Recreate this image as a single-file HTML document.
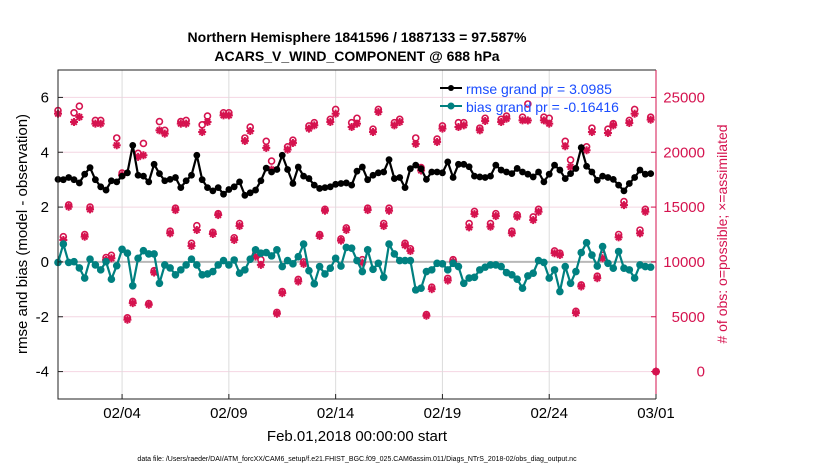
<!DOCTYPE html>
<html><head><meta charset="utf-8"><style>
body{margin:0;background:#fff;}
svg{display:block;font-family:"Liberation Sans",Arial,sans-serif;}
</style></head><body>
<svg id="chart" width="830" height="470" viewBox="0 0 830 470">
<rect width="830" height="470" fill="#fff"/>
<text x="357" y="42" text-anchor="middle" font-size="14" font-weight="bold">Northern Hemisphere 1841596 / 1887133 = 97.587%</text>
<text x="357" y="61" text-anchor="middle" font-size="14" font-weight="bold">ACARS_V_WIND_COMPONENT @ 688 hPa</text>
<g id="grid"></g>
<g id="marks"></g>
<g id="axes"></g>
<text x="357" y="441" text-anchor="middle" font-size="15">Feb.01,2018 00:00:00 start</text>
<text transform="translate(27,234) rotate(-90)" text-anchor="middle" font-size="15">rmse and bias (model - observation)</text>
<text transform="translate(727,234) rotate(-90)" text-anchor="middle" font-size="14" fill="#d5134f"># of obs: o=possible; ×=assimilated</text>
<text x="357" y="461" text-anchor="middle" font-size="7">data file: /Users/raeder/DAI/ATM_forcXX/CAM6_setup/f.e21.FHIST_BGC.f09_025.CAM6assim.011/Diags_NTrS_2018-02/obs_diag_output.nc</text>
<g id="legend">
<line x1="440" y1="88" x2="462" y2="88" stroke="#000" stroke-width="2"/>
<circle cx="451" cy="88" r="3" fill="#000"/>
<text x="466" y="94" font-size="14" fill="#1a4cff">rmse grand pr = 3.0985</text>
<line x1="440" y1="106" x2="462" y2="106" stroke="#008080" stroke-width="2"/>
<circle cx="451" cy="106" r="3.5" fill="#008080"/>
<text x="466" y="112" font-size="14" fill="#1a4cff">bias grand pr = -0.16416</text>
</g>
</svg>
<script>
const xTickLabels = ["02/04","02/09","02/14","02/19","02/24","03/01"];
const xTickDays = [3,8,13,18,23,28];
const leftTicks = [-4,-2,0,2,4,6];
const rightTicks = [0,5000,10000,15000,20000,25000];
const rmse = [3.01,3.0,3.08,3.0,2.88,3.2,3.44,3.0,2.74,2.62,2.96,2.92,3.13,3.25,4.25,3.16,3.13,2.92,3.56,3.22,2.96,3.01,3.08,2.71,2.96,3.16,3.89,3.0,2.71,2.59,2.71,2.47,2.64,2.74,2.92,2.43,2.52,2.62,2.96,3.42,
3.28,3.37,3.89,3.37,2.86,3.46,3.13,3.04,2.8,2.68,2.71,2.74,2.83,2.86,2.88,2.8,3.31,3.46,3.0,3.16,3.25,3.28,3.73,3.04,3.08,2.71,3.4,3.53,3.4,3.01,3.28,3.28,3.25,3.65,3.08,3.56,3.56,
3.47,3.13,3.10,3.08,3.13,3.53,3.35,3.28,3.22,3.41,3.28,3.2,3.1,3.28,2.92,3.2,3.53,3.35,3.04,3.22,3.41,4.17,3.49,3.28,2.98,3.13,3.08,3.01,2.8,2.59,2.86,3.08,3.35,3.2,3.22];
const bias = [-0.02,0.65,-0.02,0.01,-0.22,-0.59,0.1,-0.11,-0.29,0.01,-0.63,-0.14,0.46,0.32,-0.87,0.13,0.41,0.29,0.29,-0.78,-0.11,-0.22,-0.47,-0.29,-0.11,0.1,-0.11,-0.47,-0.44,-0.35,-0.11,0.05,-0.11,0.07,-0.41,-0.29,0.1,0.44,0.32,0.34,
0.22,0.44,-0.17,0.05,-0.07,0.19,0.65,-0.32,-0.8,-0.17,-0.44,-0.23,0.13,-0.15,0.53,0.5,0.05,-0.35,0.44,-0.27,-0.05,-0.56,0.65,0.29,0.05,0.05,0.05,-1.02,-0.96,-0.35,-0.29,-0.05,-0.07,-0.29,-0.05,-0.17,-0.78,
-0.59,-0.56,-0.29,-0.19,-0.11,-0.11,-0.17,-0.39,-0.47,-0.63,-0.96,-0.51,-0.41,0.05,-0.02,-0.59,-0.29,-1.08,-0.17,-0.78,-0.35,0.34,0.7,0.25,-0.15,0.56,-0.05,-0.23,0.38,-0.23,-0.29,-0.59,-0.11,-0.17,-0.19];
const assimilated = [23515,12000,15030,22760,23212,12300,14790,22606,22606,10182,10333,20636,17909,4727,6242,19576,19727,6091,9030,22000,21697,12606,14727,22606,22606,11454,12909,21848,22760,12545,14273,23364,23364,12000,13273,21030,21939,10485,9727,20394,
18424,5272,7151,20242,20848,8212,9818,22151,22454,12363,14666,22757,23515,11939,12909,22303,22606,9939,14727,21848,23666,13272,14666,22454,22757,11515,11000,20757,18333,5091,7515,20939,22151,8303,10030,
22303,22454,13151,14363,22000,22848,13212,14181,22757,23060,12606,14121,22909,22900,13818,14575,22909,22606,10787,10636,20545,18666,5333,7757,20181,21848,8515,10333,21757,22454,12242,15181,22666,23515,12606,14575,22970,0];
const possible = [23800,12300,15200,23600,24200,12500,15000,22900,22900,10400,10600,21300,18100,4900,6400,19900,20800,6200,9200,22800,22000,12800,14900,22800,22900,11700,13300,22500,23300,12700,14400,23600,23600,12200,13500,21300,22300,10700,10200,21000,
19200,5400,7300,20500,21100,8400,10000,22400,22700,12500,14800,23000,23900,12100,13100,22700,23100,10200,14900,22100,23900,13500,14900,22700,23000,11700,11200,21300,18600,5200,7700,21200,22400,8500,10200,
22700,22700,13500,14600,22200,23100,13500,14400,23000,23300,12800,14300,23200,24400,14100,14800,23200,23100,11000,10800,21000,19300,5500,7900,20500,22200,8700,10600,22100,22600,12500,15500,22900,23900,12900,14800,23200,0];

const NS='http://www.w3.org/2000/svg';
const X0=58, X1=656, Y0=70, Y1=399;
const xs = d => X0 + (d/28)*(X1-X0);
const xi = i => xs(i*0.25);
const yl = v => Y1 - (v+5)/12*(Y1-Y0);
const yr = v => Y1 - (v+2500)/30000*(Y1-Y0);
function mk(tag, attrs, parent){const e=document.createElementNS(NS,tag);for(const k in attrs)e.setAttribute(k,attrs[k]);parent.appendChild(e);return e;}
const grid=document.getElementById('grid'), marks=document.getElementById('marks'), axes=document.getElementById('axes');

rightTicks.forEach(t=>{
  const l=mk('line',{x1:X0,x2:X1,y1:yr(t),y2:yr(t),stroke:'#f4d6e2','stroke-width':1},grid);
  
  
});
xTickDays.forEach(d=>{
  const l=mk('line',{x1:xs(d),x2:xs(d),y1:Y0,y2:Y1,stroke:'#dcdcdc','stroke-width':1},grid);
  
  
});
const zl=mk('line',{x1:X0,x2:X1,y1:yl(0),y2:yl(0),stroke:'#b8b8b8','stroke-width':2},grid);



function star(cx,cy,p){
  const g=mk('g',{stroke:'#d5134f','stroke-width':2},p);
  
  
  const r=4;
  mk('line',{x1:cx-r,y1:cy,x2:cx+r,y2:cy},g);
  mk('line',{x1:cx,y1:cy-r,x2:cx,y2:cy+r},g);
  mk('line',{x1:cx-r*0.7,y1:cy-r*0.7,x2:cx+r*0.7,y2:cy+r*0.7},g);
  mk('line',{x1:cx-r*0.7,y1:cy+r*0.7,x2:cx+r*0.7,y2:cy-r*0.7},g);
  const c=mk('circle',{cx:cx,cy:cy,r:2,fill:'#d5134f',stroke:'none'},g);
}
possible.forEach((v,i)=>{
  const c=mk('circle',{cx:xi(i),cy:yr(v),r:3,fill:'none',stroke:'#d5134f','stroke-width':1.6},marks);
  
  
});
assimilated.forEach((v,i)=>star(xi(i),yr(v),marks));

function series(arr,color,r,name){
  const p=mk('polyline',{points:arr.map((v,i)=>xi(i)+','+yl(v)).join(' '),fill:'none',stroke:color,'stroke-width':2.2},marks);
  
  
  arr.forEach((v,i)=>{
    const c=mk('circle',{cx:xi(i),cy:yl(v),r:r,fill:color},marks);
    
    
  });
}
series(bias,'#008080',3.8,'bias');
series(rmse,'#000000',3.4,'rmse');

const fr=mk('path',{d:`M${X1},${Y0} L${X0},${Y0} L${X0},${Y1} L${X1},${Y1}`,fill:'none',stroke:'#222','stroke-width':1},axes);


const ra=mk('line',{x1:X1,x2:X1,y1:Y0,y2:Y1,stroke:'#d5134f','stroke-width':1},axes);


leftTicks.forEach(t=>{
  const y=yl(t);
  const tk=mk('line',{x1:X0,x2:X0+5,y1:y,y2:y,stroke:'#222'},axes);
  
  
  const tx=mk('text',{x:X0-9,y:y+5,'text-anchor':'end','font-size':15},axes);
  tx.textContent=String(t);
  
  
});
rightTicks.forEach(t=>{
  const y=yr(t);
  const tk=mk('line',{x1:X1-5,x2:X1,y1:y,y2:y,stroke:'#d5134f'},axes);
  
  
  const tx=mk('text',{x:705,y:y+5,'text-anchor':'end','font-size':15,fill:'#d5134f'},axes);
  tx.textContent=String(t);
  
  
});
xTickDays.forEach((d,k)=>{
  const x=xs(d);
  const tk=mk('line',{x1:x,x2:x,y1:Y1,y2:Y1-5,stroke:'#222'},axes);
  
  
  const tx=mk('text',{x:x,y:Y1+19,'text-anchor':'middle','font-size':15},axes);
  tx.textContent=xTickLabels[k];
  
  
});
</script>
</body></html>
